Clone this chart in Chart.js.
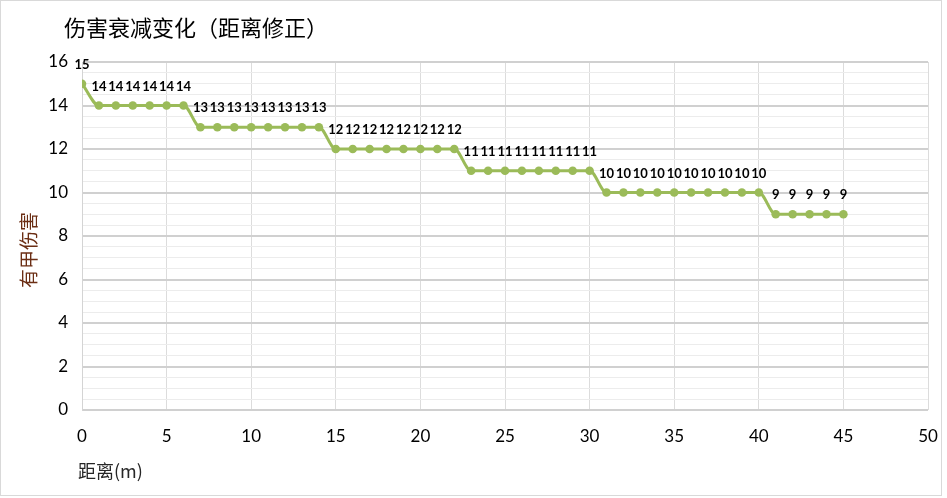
<!DOCTYPE html>
<html>
<head>
<meta charset="utf-8">
<script src="https://cdn.jsdelivr.net/npm/chart.js@4/dist/chart.umd.min.js"></script>
<style>
  html, body { margin: 0; padding: 0; background: #fff; }
  #wrap { width: 947px; height: 498px; position: relative; }
</style>
</head>
<body>
<div id="wrap"><canvas id="c" width="947" height="498"></canvas></div>
<script>
const chartTitle = '伤害衰减变化（距离修正）';
const xAxisTitle = '距离(m)';
const yAxisTitle = '有甲伤害';
const distances = [0,1,2,3,4,5,6,7,8,9,10,11,12,13,14,15,16,17,18,19,20,21,22,23,24,25,26,27,28,29,30,31,32,33,34,35,36,37,38,39,40,41,42,43,44,45];
const damage = [15,14,14,14,14,14,14,13,13,13,13,13,13,13,13,12,12,12,12,12,12,12,12,11,11,11,11,11,11,11,11,10,10,10,10,10,10,10,10,10,10,9,9,9,9,9];
const xTicks = [0,5,10,15,20,25,30,35,40,45,50];
const yTicks = [0,2,4,6,8,10,12,14,16];

const points = distances.map((d, i) => ({ x: d, y: damage[i] }));

const decor = {
  id: 'decor',
  beforeDraw(chart) {
    const ctx = chart.ctx;
    ctx.save();
    ctx.fillStyle = '#ffffff';
    ctx.fillRect(0, 0, chart.width, chart.height);
    ctx.strokeStyle = '#d9d9d9';
    ctx.lineWidth = 1;
    ctx.strokeRect(0.5, 0.5, 941, 495);
    ctx.restore();
  },
  afterDatasetsDraw(chart) {
    const ctx = chart.ctx;
    const meta = chart.getDatasetMeta(0);
    ctx.save();
    ctx.font = 'bold 13px Lato, "Noto Sans", sans-serif';
    ctx.fillStyle = '#000';
    ctx.textAlign = 'center';
    ctx.textBaseline = 'middle';
    meta.data.forEach((el, i) => {
      ctx.fillText(String(damage[i]), el.x, el.y - 19);
    });
    ctx.restore();
  },
  afterDraw(chart) {
    const ctx = chart.ctx;
    ctx.save();
    ctx.fillStyle = '#000';
    ctx.textBaseline = 'middle';
    ctx.textAlign = 'left';
    ctx.font = '22px "Noto Sans CJK SC", sans-serif';
    ctx.fillText(chartTitle, 64, 28);
    ctx.font = '18px "Noto Sans CJK SC", sans-serif';
    ctx.fillStyle = '#262626';
    ctx.fillText(xAxisTitle, 78, 471);
    ctx.translate(29, 250);
    ctx.rotate(-Math.PI / 2);
    ctx.textAlign = 'center';
    ctx.fillStyle = '#6b2e14';
    ctx.font = '19px "Noto Sans CJK SC", sans-serif';
    ctx.fillText(yAxisTitle, 0, 0);
    ctx.restore();
  }
};

new Chart(document.getElementById('c'), {
  type: 'line',
  data: {
    datasets: [{
      data: points,
      borderColor: '#9bbb59',
      backgroundColor: '#9bbb59',
      borderWidth: 3,
      pointRadius: 4.3,
      pointHoverRadius: 4.3,
      pointBorderWidth: 0,
      cubicInterpolationMode: 'monotone',
      fill: false
    }]
  },
  options: {
    responsive: false,
    animation: false,
    devicePixelRatio: 1,
    layout: { padding: { top: 62, right: 19, bottom: 0, left: 0 } },
    plugins: { legend: { display: false }, title: { display: false }, tooltip: { enabled: false } },
    scales: {
      x: {
        type: 'linear',
        min: 0, max: 50,
        afterBuildTicks(scale) { scale.ticks = xTicks.map(v => ({ value: v })); },
        afterFit(scale) { scale.height = 88; scale.paddingRight = 0; scale.paddingLeft = 0; },
        ticks: { color: '#000', padding: 16, font: { family: 'Lato, "Noto Sans", sans-serif', size: 17 }, maxRotation: 0, autoSkip: false },
        grid: { color: '#dcdcdc', lineWidth: 1, drawTicks: false },
        border: { display: false }
      },
      y: {
        min: 0, max: 16,
        ticks: {
          stepSize: 0.5,
          autoSkip: false,
          color: '#000',
          padding: 14,
          font: { family: 'Lato, "Noto Sans", sans-serif', size: 17 },
          callback(v) { return yTicks.includes(v) ? String(v) : ''; }
        },
        afterFit(scale) { scale.width = 82; scale.paddingTop = 0; scale.paddingBottom = 0; },
        grid: {
          drawTicks: false,
          color(ctx) { return yTicks.includes(ctx.tick.value) ? '#d0d0d0' : '#ececec'; },
          lineWidth(ctx) { return yTicks.includes(ctx.tick.value) ? 2 : 1; }
        },
        border: { display: true, color: '#d4d4d4', width: 1 }
      }
    }
  },
  plugins: [decor]
});
</script>
</body>
</html>
